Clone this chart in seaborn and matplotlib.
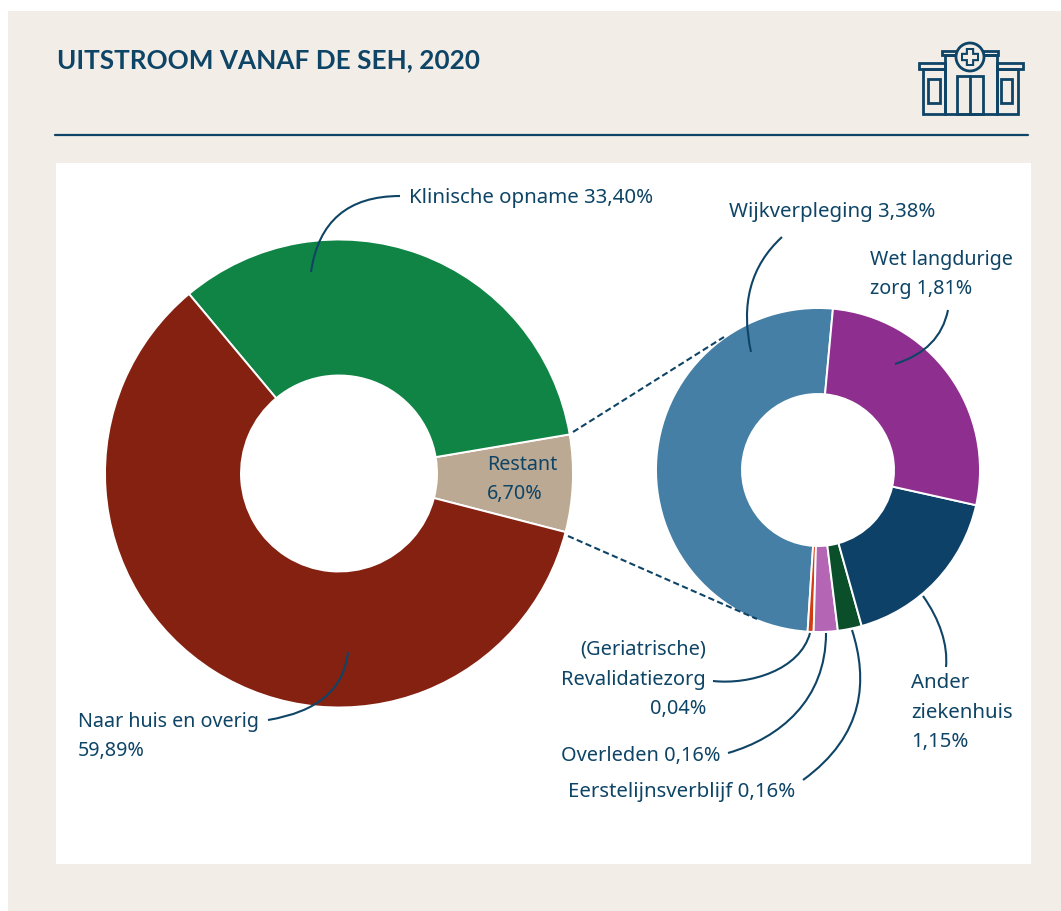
#!/usr/bin/env python3
"""Uitstroom vanaf de SEH, 2020 - twee donuts met toelichting"""

import matplotlib
matplotlib.use('Agg')
import matplotlib.pyplot as plt
from matplotlib.patches import Rectangle, Circle, PathPatch
from matplotlib.path import Path
import seaborn as sns

# Linker donut
main_labels = ['Restant', 'Klinische opname', 'Naar huis en overig']
main_values = [6.70, 33.40, 59.89]
main_colors = ['#BCA993', '#0F8444', '#842111']

# Rechter donut (uitsplitsing restant)
rest_labels = ['Wijkverpleging', '(Geriatrische) Revalidatiezorg', 'Overleden',
               'Eerstelijnsverblijf', 'Ander ziekenhuis', 'Wet langdurige zorg']
rest_values = [3.38, 0.04, 0.16, 0.16, 1.15, 1.81]
rest_colors = ['#457FA6', '#D23C12', '#B466B4', '#0B4F2A', '#0D4167', '#8E2F8F']

W, H = 1061, 911
NAVY = '#0E4466'
BEIGE = '#F2EDE7'

sns.set_theme(style='white')
plt.rcParams['font.family'] = ['Noto Sans', 'DejaVu Sans']

fig = plt.figure(figsize=(W / 100, H / 100), dpi=100, facecolor='white')
ax = fig.add_axes([0, 0, 1, 1])


def fy(y):
    # pixels van boven naar as-coordinaat
    return H - y


def donut(values, colors, cx, cy, radius, hole, start):
    ax.pie(values, colors=colors, center=(cx, fy(cy)), radius=radius, startangle=start,
           wedgeprops=dict(width=radius - hole, edgecolor='white', linewidth=1.4), normalize=True)


def curve(*pts):
    # kromme aanwijslijn, 3 of 4 punten
    code = Path.CURVE3 if len(pts) == 3 else Path.CURVE4
    verts = [(x, fy(y)) for x, y in pts]
    ax.add_patch(PathPatch(Path(verts, [Path.MOVETO] + [code] * (len(pts) - 1)), fill=False,
                           edgecolor=NAVY, linewidth=1.5, zorder=6))


def box(x0, y0, x1, y1):
    ax.add_patch(Rectangle((x0, fy(y1)), x1 - x0, y1 - y0, fill=False, edgecolor=NAVY,
                           linewidth=2.0, zorder=6))


def label(x, y, txt, ha='left', size=14.7, **kw):
    ax.text(x, fy(y + 1.5), txt, ha=ha, va='center', color=NAVY, fontsize=size, linespacing=1.65,
            zorder=7, **kw)


# Achtergrond
ax.add_patch(Rectangle((8, 0), W - 8, H - 11, facecolor=BEIGE, edgecolor='none', zorder=0))
ax.add_patch(Rectangle((56, fy(864)), 975, 701, facecolor='white', edgecolor='none', zorder=0.5))

donut(main_values, main_colors, 339, 473.5, 234, 98, -14.5)
donut(rest_values, rest_colors, 818, 470, 162, 76, 84.7)

ax.set_xlim(0, W)
ax.set_ylim(0, H)
ax.set_aspect('equal')
ax.axis('off')

# Titel en lijn
ax.text(57, fy(60), 'UITSTROOM VANAF DE SEH, 2020', color=NAVY, fontsize=18.8, fontweight='bold',
        family=['Lato', 'DejaVu Sans'], ha='left', va='center')
ax.plot([55, 1028], [fy(135), fy(135)], color=NAVY, linewidth=1.6)

# Stippellijnen tussen de donuts
ax.plot([573, 724], [fy(432), fy(337)], color=NAVY, linewidth=1.5, linestyle=(0, (3, 1.6)), zorder=5)
ax.plot([568, 757], [fy(536), fy(619)], color=NAVY, linewidth=1.5, linestyle=(0, (3, 1.6)), zorder=5)

# Aanwijslijnen
curve((311, 272), (322, 196), (400, 196))
curve((348, 652), (342, 708), (268, 720))
curve((751, 352), (735, 280), (782, 237))
curve((895, 364), (940, 350), (948, 310))
curve((923, 596), (940, 620), (948, 645), (946, 667))
curve((852, 630), (868, 680), (865, 735), (803, 780))
curve((826, 633), (826, 700), (780, 738), (728, 753))
curve((810, 633), (800, 670), (750, 685), (713, 681))

# Labels
label(409, 197, 'Klinische opname 33,40%')
label(729, 210, 'Wijkverpleging 3,38%')
label(870, 273, 'Wet langdurige\nzorg 1,81%', size=14.2)
label(487, 478, 'Restant\n6,70%', size=14.2)
label(78, 735, 'Naar huis en overig\n59,89%', size=14.2)
label(706, 678, '(Geriatrische)\nRevalidatiezorg\n0,04%', ha='right', multialignment='right', size=14.4)
label(911, 711, 'Ander\nziekenhuis\n1,15%')
label(561, 754, 'Overleden 0,16%', size=14.4)
label(568, 790, 'Eerstelijnsverblijf 0,16%')

# Icoon ziekenhuis
box(945, 55, 997, 114)
box(923, 69, 945, 114)
box(997, 69, 1018, 114)
box(919, 63, 945, 69)
box(997, 63, 1023, 69)
box(942, 51, 957, 55)
box(983, 51, 998, 55)
box(928, 79, 940, 103)
box(1001, 79, 1012, 103)
box(957, 76, 983, 114)
ax.plot([970, 970], [fy(76), fy(114)], color=NAVY, linewidth=2.0, zorder=6)
ax.add_patch(Circle((970, fy(57)), 14, facecolor=BEIGE, edgecolor=NAVY, linewidth=2.0, zorder=7))
# plus met holle binnenkant
ax.plot([970, 970], [fy(48), fy(66)], color=NAVY, linewidth=6, zorder=8, solid_capstyle='butt')
ax.plot([961, 979], [fy(57), fy(57)], color=NAVY, linewidth=6, zorder=8, solid_capstyle='butt')
ax.plot([970, 970], [fy(50), fy(64)], color=BEIGE, linewidth=3, zorder=9, solid_capstyle='butt')
ax.plot([963, 977], [fy(57), fy(57)], color=BEIGE, linewidth=3, zorder=9, solid_capstyle='butt')

fig.savefig('out.png', dpi=100)
